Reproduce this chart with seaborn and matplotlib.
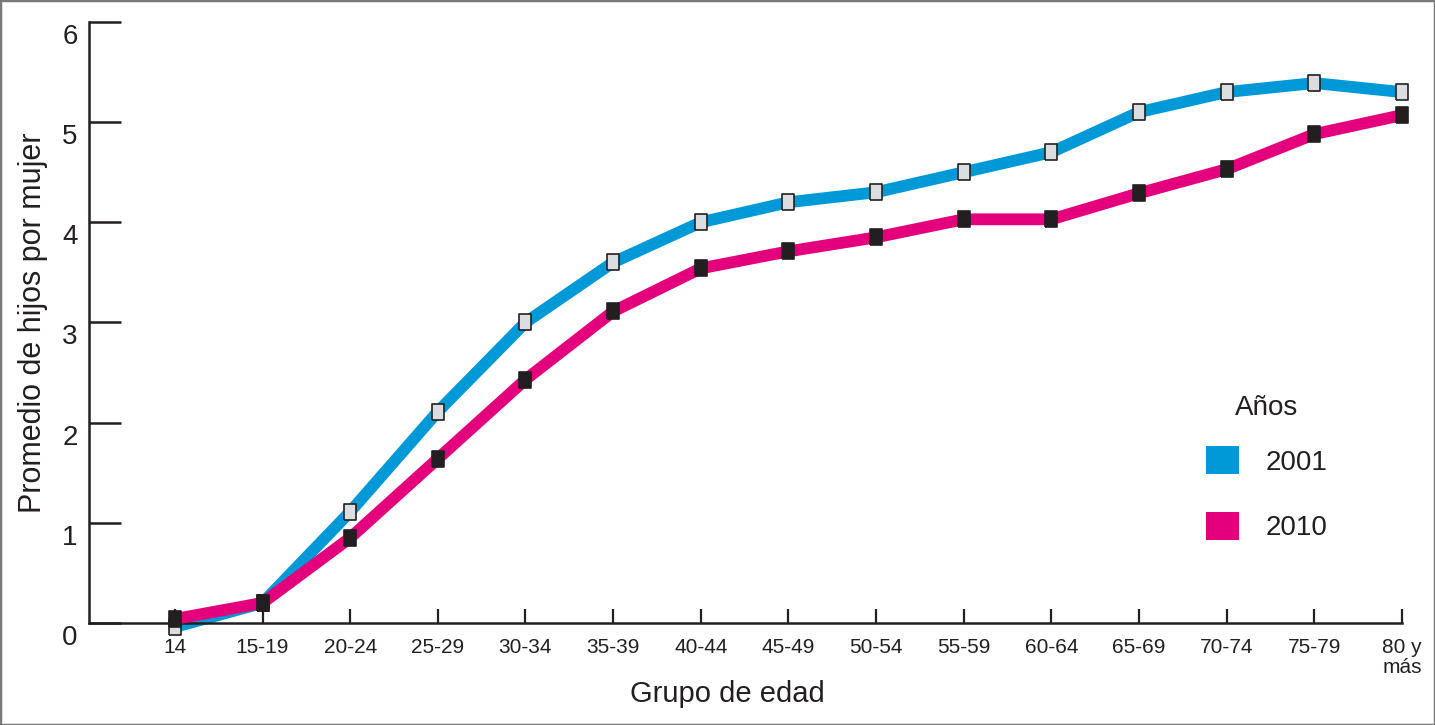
import pandas as pd
import numpy as np
import seaborn as sns
import matplotlib.pyplot as plt
import matplotlib.transforms as mtransforms
from matplotlib.patches import Patch, Rectangle

# Datos
grupos = ['14', '15-19', '20-24', '25-29', '30-34', '35-39', '40-44', '45-49',
          '50-54', '55-59', '60-64', '65-69', '70-74', '75-79', '80 y\nmás']
hijos_2001 = [-0.04, 0.20, 1.11, 2.11, 3.00, 3.60, 4.00, 4.20, 4.30, 4.50,
              4.70, 5.10, 5.30, 5.39, 5.30]
hijos_2010 = [0.04, 0.20, 0.85, 1.64, 2.43, 3.11, 3.54, 3.71, 3.85, 4.03,
              4.03, 4.29, 4.53, 4.88, 5.07]
anios = ['2001', '2010']
colores = {'2001': '#0099d8', '2010': '#e4007c'}

df = pd.DataFrame({
    'grupo': grupos * 2,
    'hijos': hijos_2001 + hijos_2010,
    'anio': ['2001'] * len(grupos) + ['2010'] * len(grupos),
})

# Configuraciones
sns.set_style('white')
plt.rcParams['font.family'] = ['Liberation Sans', 'DejaVu Sans']

fig = plt.figure(figsize=(14.35, 7.25), dpi=100)
ax = fig.add_axes([0.062, 0.1407, 0.915, 0.829])

# marcador rectangular (más alto que ancho)
rect = [(-0.36, -0.5), (0.36, -0.5), (0.36, 0.5), (-0.36, 0.5), (-0.36, -0.5)]
marker_face = {'2001': '#dcdde0', '2010': '#231f20'}

for anio in anios:
    sns.lineplot(data=df[df['anio'] == anio], x='grupo', y='hijos', sort=False,
                 color=colores[anio], linewidth=8.5, ax=ax, clip_on=False,
                 marker=rect, markersize=12, markerfacecolor=marker_face[anio],
                 markeredgecolor='#231f20', markeredgewidth=1.2,
                 solid_joinstyle='round', zorder=3 if anio == '2010' else 2)

ax.set_xlim(-0.98, 14.0)
ax.set_ylim(0, 6)
ax.set_yticks(range(0, 7))

for s in ['top', 'right']:
    ax.spines[s].set_visible(False)
for s in ['left', 'bottom']:
    ax.spines[s].set_linewidth(1.8)
    ax.spines[s].set_color('#231f20')

ax.tick_params(axis='y', left=True, direction='in', length=23, width=1.8,
               color='#231f20', labelsize=20, pad=8, labelcolor='#231f20')
ax.tick_params(axis='x', bottom=True, direction='in', length=10, width=1.6,
               color='#231f20', labelsize=15, pad=11, labelcolor='#231f20')
ax.set_xticks(range(len(grupos)))
ax.set_xticklabels(grupos, linespacing=1.05)

# etiquetas del eje y un poco más abajo que las marcas
offset = mtransforms.ScaledTranslation(0, -12 / 100, fig.dpi_scale_trans)
for lab in ax.get_yticklabels():
    lab.set_transform(lab.get_transform() + offset)

ax.set_xlabel('Grupo de edad', fontsize=21, color='#231f20', labelpad=1)
ax.xaxis.set_label_coords(0.486, -0.095)
ax.set_ylabel('Promedio de hijos por mujer', fontsize=22, color='#231f20', labelpad=10)

handles = [Patch(facecolor=colores[a], edgecolor='none', label=a) for a in anios]
leg = ax.legend(handles=handles, title='Años', loc='upper left',
                bbox_to_anchor=(1206 / 1435, 1 - 395 / 725), bbox_transform=fig.transFigure,
                frameon=False, fontsize=20, title_fontsize=20,
                handlelength=1.2, handleheight=1.2, handletextpad=0.95,
                labelspacing=1.3, borderaxespad=0, borderpad=0)
leg._legend_box.sep = 18
for t in leg.get_texts():
    t.set_color('#231f20')
leg.get_title().set_color('#231f20')

fig.patches.append(Rectangle((0, 0), 1, 1, transform=fig.transFigure, fill=False,
                             edgecolor='#7a7a7a', linewidth=2.5))

fig.savefig('out.png', dpi=100)
